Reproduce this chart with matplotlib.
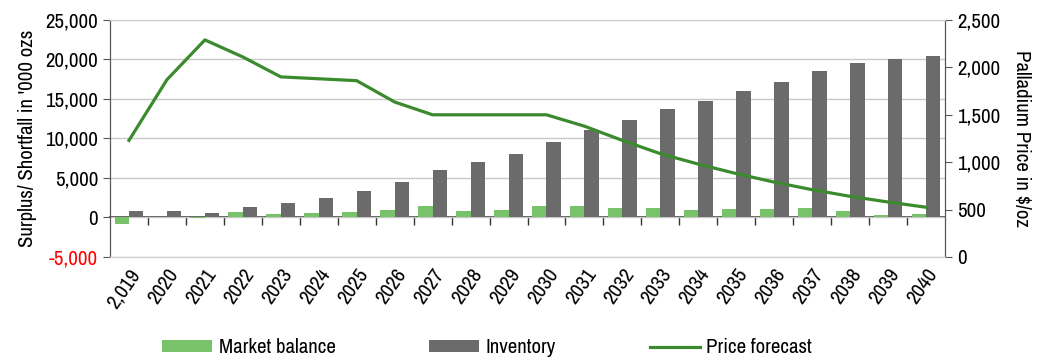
import numpy as np
import matplotlib.pyplot as plt
from matplotlib.ticker import FuncFormatter

plt.rcParams['font.family'] = ['Archivo Narrow', 'Liberation Sans', 'DejaVu Sans']

# Years, market balance and inventory ('000 ozs), price forecast ($/oz)
years = list(range(2019, 2041))
year_labels = ['2,019'] + [str(y) for y in years[1:]]
market_balance = [-800, 0, -100, 650, 380, 550, 650, 1000, 1400, 800, 950,
                  1400, 1400, 1150, 1150, 950, 1100, 1050, 1150, 850, 300, 400]
inventory = [800, 800, 550, 1300, 1800, 2500, 3300, 4500, 6000, 7000, 8100,
             9500, 11100, 12300, 13700, 14700, 16000, 17200, 18500, 19500, 20000, 20500]
price = [1230, 1870, 2290, 2110, 1900, 1880, 1860, 1635, 1500, 1500, 1500,
         1500, 1380, 1230, 1090, 980, 880, 790, 710, 640, 580, 525]

green = '#78C36A'
grey = '#6B6B6B'
line_green = '#3C8A2E'
fs = 15

fig = plt.figure(figsize=(10.42, 3.59), dpi=100)
ax = fig.add_axes([110/1042, 1-257/359, (945-110)/1042, (257-20)/359])
ax2 = ax.twinx()

x = np.arange(len(years))
w = 0.38
b1 = ax.bar(x - w/2, market_balance, w, color=green, label='Market balance', zorder=3)
b2 = ax.bar(x + w/2, inventory, w, color=grey, label='Inventory', zorder=3)
l1, = ax2.plot(x, price, color=line_green, lw=2.3, label='Price forecast')

ax.set_xlim(-0.5, len(years) - 0.5)
ax.set_ylim(-5000, 25000)
ax.set_yticks(np.arange(-5000, 25001, 5000))
ax.yaxis.set_major_formatter(FuncFormatter(lambda v, p: f'{int(v):,}'))
ax.grid(axis='y', color='#C8C8C8', lw=1, zorder=0)
ax.set_ylabel("Surplus/ Shortfall in '000 ozs", fontsize=fs, labelpad=6)
ax.tick_params(axis='y', labelsize=fs, length=5, color='#555555')
for t in ax.get_yticklabels():
    if t.get_text().startswith('-') or t.get_text().startswith('\u2212'):
        t.set_color('red')

ax2.set_ylim(0, 2500)
ax2.set_yticks(np.arange(0, 2501, 500))
ax2.yaxis.set_major_formatter(FuncFormatter(lambda v, p: f'{int(v):,}'))
ax2.set_ylabel('Palladium Price in $/oz', fontsize=fs, rotation=-90, labelpad=22)
ax2.tick_params(axis='y', labelsize=fs, length=5, color='#555555')

# year labels at bottom, tick marks on the zero line
ax.set_xticks(x)
ax.set_xticklabels(year_labels, rotation=55, ha='right', rotation_mode='anchor', fontsize=fs)
ax.tick_params(axis='x', length=0, pad=6)
zero = ax.secondary_xaxis(5000/30000)
zero.set_xticks(x[:-1] + 0.5)
zero.set_xticklabels([])
zero.tick_params(axis='x', length=6, width=1, color='#333333', direction='out')
zero.spines['bottom'].set_color('#333333')
zero.spines['bottom'].set_linewidth(1.2)

for a in (ax, ax2):
    a.spines['top'].set_color('#D0D0D0')
    a.spines['bottom'].set_color('#D0D0D0')
    a.spines['left'].set_color('#555555')
    a.spines['right'].set_color('#555555')

fig.legend([b1, b2, l1], ['Market balance', 'Inventory', 'Price forecast'],
           loc='lower left', bbox_to_anchor=(152/1042, -0.024), ncol=3, frameon=False,
           fontsize=fs, handlelength=2.4, handleheight=0.5, columnspacing=4.5,
           handletextpad=0.3, borderaxespad=0.1)

fig.savefig('out.png', dpi=100)
